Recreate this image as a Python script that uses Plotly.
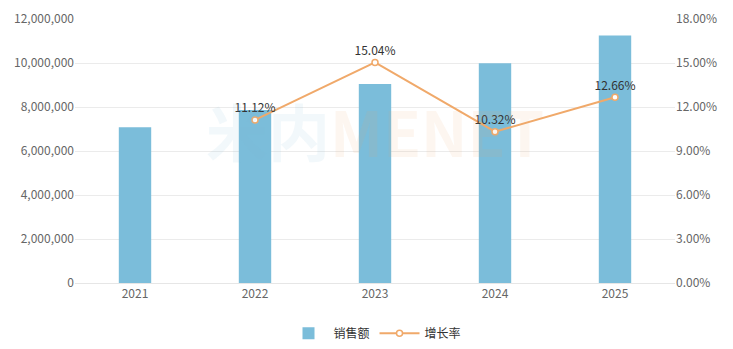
import plotly.graph_objects as go

years = ["2021", "2022", "2023", "2024", "2025"]
sales = [7080000, 7867000, 9050000, 9984000, 11248000]
growth_years = ["2022", "2023", "2024", "2025"]
growth = [11.12, 15.04, 10.32, 12.66]
growth_labels = ["11.12%", "15.04%", "10.32%", "12.66%"]

font_family = "Noto Sans CJK SC, Noto Sans, sans-serif"

fig = go.Figure()
fig.add_trace(go.Bar(
    x=years, y=sales, name="销售额",
    marker=dict(color="#7BBDDA", line=dict(width=0)),
    width=0.27,
))
fig.add_trace(go.Scatter(
    x=growth_years, y=growth, name="增长率", yaxis="y2",
    mode="lines+markers+text",
    line=dict(color="#F0A96A", width=2),
    marker=dict(size=6, color="white", line=dict(color="#F0A96A", width=1.5)),
    text=growth_labels, textposition="top center",
    textfont=dict(size=12, color="#333333", family=font_family),
))

fig.add_annotation(
    x=0.5, y=0.58, xref="paper", yref="paper", showarrow=False,
    text="<b><span style='color:rgba(123,189,218,0.10)'>米内</span><span style='color:rgba(240,169,106,0.10)'>MENET</span></b>",
    font=dict(size=62, family=font_family),
)

fig.update_layout(
    width=733, height=349,
    margin=dict(l=75, r=58, t=19, b=66, autoexpand=False),
    paper_bgcolor="white", plot_bgcolor="white",
    font=dict(family=font_family, size=12, color="#666666"),
    showlegend=True,
    legend=dict(orientation="h", x=0.5, xanchor="center", y=-0.135, yanchor="top",
                font=dict(size=12, color="#333333"), itemwidth=40),
    bargap=0.73,
    xaxis=dict(type="category", showgrid=False, showline=True, linecolor="#E6E6E6",
               ticks="", tickfont=dict(size=12, color="#666666")),
    yaxis=dict(range=[0, 12000000], dtick=2000000, tickformat=",", showgrid=True,
               gridcolor="#EBEBEB", zeroline=False, ticks="", ticklen=0,
               tickfont=dict(size=12, color="#666666")),
    yaxis2=dict(range=[0, 18], dtick=3, tickformat=".2f", ticksuffix="%",
                overlaying="y", side="right", showgrid=False, zeroline=False,
                tickfont=dict(size=12, color="#666666")),
)

fig.write_html("out.html")
